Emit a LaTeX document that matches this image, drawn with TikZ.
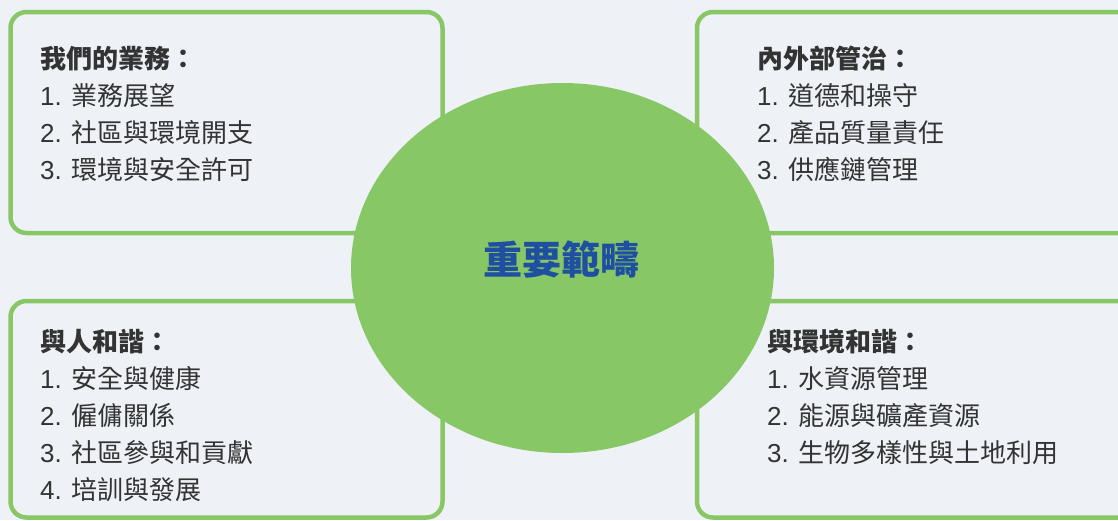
\documentclass[tikz,border=0pt]{standalone}
\usepackage{fontspec}
\usepackage{xcolor}
\usetikzlibrary{shapes.geometric}
\setmainfont{Liberation Sans}
\newfontfamily\cjk{Noto Sans CJK TC}
\definecolor{leaf}{HTML}{88C766}
\definecolor{paper}{HTML}{EEF2F7}
\definecolor{ink}{HTML}{333333}
\definecolor{deepblue}{HTML}{1F4FA0}

\begin{document}
\begin{tikzpicture}[x=1pt, y=-1pt,
  panel/.style={draw=leaf, line width=4.5pt, rounded corners=16pt},
  list/.style={anchor=north west, align=left, inner sep=0pt, text=ink,
    font=\fontsize{26}{37}\selectfont},
  hub/.style={ellipse, fill=leaf, minimum width=423pt, minimum height=370pt,
    inner sep=0pt},
  hubtext/.style={inner sep=0pt, text=deepblue,
    font=\cjk\bfseries\fontsize{39}{42}\selectfont}
]
\useasboundingbox (0,0) rectangle (1118,520);
\clip (0,0) rectangle (1118,520);
\fill[paper] (0,0) rectangle (1118,520);

% four panels
\draw[panel] (10.5,12) rectangle (442.5,233);
\draw[panel] (697,12) rectangle (1150,233);
\draw[panel] (10.5,301) rectangle (442.5,517.5);
\draw[panel] (697,301) rectangle (1150,517.5);

\node[list] (business) at (40,46) {{\cjk\bfseries 我們的業務：}\\
  1. {\cjk 業務展望}\\
  2. {\cjk 社區與環境開支}\\
  3. {\cjk 環境與安全許可}};
\node[list] (governance) at (757,46) {{\cjk\bfseries 內外部管治：}\\
  1. {\cjk 道德和操守}\\
  2. {\cjk 產品質量責任}\\
  3. {\cjk 供應鏈管理}};
\node[list] (people) at (40,329.5) {{\cjk\bfseries 與人和諧：}\\
  1. {\cjk 安全與健康}\\
  2. {\cjk 僱傭關係}\\
  3. {\cjk 社區參與和貢獻}\\
  4. {\cjk 培訓與發展}};
\node[list] (nature) at (767,328.5) {{\cjk\bfseries 與環境和諧：}\\
  1. {\cjk 水資源管理}\\
  2. {\cjk 能源與礦產資源}\\
  3. {\cjk 生物多樣性與土地利用}};

% centre
\node[hub] (core) at (562.5,268) {};
\node[hubtext] (coretitle) at (561,260) {重要範疇};
\end{tikzpicture}
\end{document}
